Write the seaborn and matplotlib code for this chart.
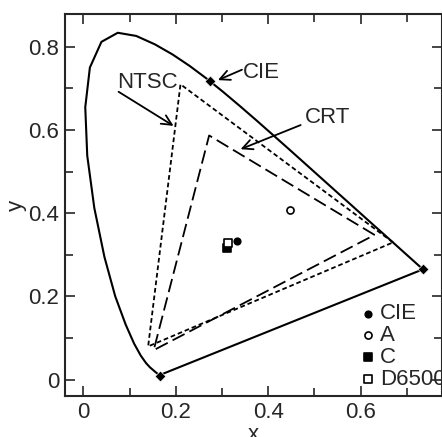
import matplotlib
matplotlib.use("Agg")
import matplotlib.pyplot as plt
import seaborn as sns

# CIE 1931 spectral locus (x, y), closed by the purple line
locus_x = [0.1644, 0.1566, 0.1440, 0.1355, 0.1241, 0.1096, 0.0913, 0.0687, 0.0454, 0.0235,
           0.0082, 0.0039, 0.0139, 0.0389, 0.0743, 0.1142, 0.1547, 0.1929, 0.2296, 0.2658,
           0.3016, 0.3373, 0.3731, 0.4087, 0.4441, 0.4788, 0.5125, 0.5448, 0.5752, 0.6029,
           0.6270, 0.6658, 0.6915, 0.7190, 0.7347, 0.1644]
locus_y = [0.0109, 0.0177, 0.0297, 0.0399, 0.0578, 0.0868, 0.1327, 0.2007, 0.2950, 0.4127,
           0.5384, 0.6548, 0.7502, 0.8120, 0.8338, 0.8262, 0.8059, 0.7816, 0.7543, 0.7243,
           0.6923, 0.6589, 0.6245, 0.5896, 0.5547, 0.5202, 0.4866, 0.4544, 0.4242, 0.3965,
           0.3725, 0.3340, 0.3083, 0.2809, 0.2653, 0.0109]

# CIE RGB primaries on the locus
prim_x = [0.7347, 0.2738, 0.1666]
prim_y = [0.2653, 0.7174, 0.0089]

# NTSC and CRT gamuts (R, G, B, back to R)
ntsc_x = [0.67, 0.21, 0.14, 0.67]
ntsc_y = [0.33, 0.71, 0.08, 0.33]
crt_x = [0.63, 0.272, 0.152, 0.63]
crt_y = [0.348, 0.587, 0.071, 0.348]

# white points
white_names = ["CIE", "A", "C", "D6500"]
white_x = [0.3333, 0.4476, 0.3101, 0.3127]
white_y = [0.3333, 0.4074, 0.3162, 0.3290]

sns.set_style("ticks")
plt.rcParams["font.family"] = ["Liberation Sans", "DejaVu Sans"]
plt.rcParams["font.size"] = 16

fig, ax = plt.subplots(figsize=(4.42, 4.37), dpi=100)
fig.subplots_adjust(left=0.147, right=0.999, bottom=0.093, top=0.969)

sns.lineplot(x=locus_x, y=locus_y, sort=False, estimator=None, color="black", lw=1.5, ax=ax)
sns.lineplot(x=ntsc_x, y=ntsc_y, sort=False, estimator=None, color="black", lw=1.3,
             linestyle=(0, (2.6, 1.6)), ax=ax)
sns.lineplot(x=crt_x, y=crt_y, sort=False, estimator=None, color="black", lw=1.3,
             linestyle=(0, (7.5, 3)), ax=ax)
sns.scatterplot(x=prim_x, y=prim_y, marker="D", s=30, color="black", ax=ax, zorder=5)

# white points with their own markers
styles = [("o", "black", 22), ("o", "white", 26), ("s", "black", 30), ("s", "white", 36)]
for name, wx, wy, (m, fc, s) in zip(white_names, white_x, white_y, styles):
    ax.scatter([wx], [wy], marker=m, s=s, facecolor=fc, edgecolor="black",
               linewidth=1.2, label=name, zorder=6)

arrow = dict(arrowstyle="->,head_length=0.45,head_width=0.22", color="black", lw=1.3,
             shrinkA=0, shrinkB=0, mutation_scale=16)
ax.annotate("", xy=(0.291, 0.720), xytext=(0.343, 0.745), arrowprops=arrow)
ax.text(0.346, 0.738, "CIE", ha="left", va="center")
ax.annotate("", xy=(0.195, 0.610), xytext=(0.076, 0.692), arrowprops=arrow)
ax.text(0.073, 0.714, "NTSC", ha="left", va="center")
ax.annotate("", xy=(0.340, 0.554), xytext=(0.470, 0.612), arrowprops=arrow)
ax.text(0.480, 0.630, "CRT", ha="left", va="center")

ax.set_xlim(-0.04, 0.775)
ax.set_ylim(-0.04, 0.88)
ax.set_xticks([0, 0.2, 0.4, 0.6])
ax.set_xticklabels(["0", "0.2", "0.4", "0.6"])
ax.set_yticks([0, 0.2, 0.4, 0.6, 0.8])
ax.set_yticklabels(["0", "0.2", "0.4", "0.6", "0.8"])
ax.set_xticks([0.1, 0.3, 0.5, 0.7], minor=True)
ax.set_yticks([0.1, 0.3, 0.5, 0.7], minor=True)
ax.tick_params(which="both", direction="in", top=True, right=True, width=1.2)
ax.tick_params(which="major", length=7, pad=4)
ax.tick_params(which="minor", length=5.5)
for sp in ax.spines.values():
    sp.set_linewidth(1.5)
ax.set_xlabel("x", labelpad=1)
ax.set_ylabel("y", labelpad=1)

ax.legend(loc="upper left", bbox_to_anchor=(0.79, 0.243), frameon=False, borderpad=0,
          borderaxespad=0, handlelength=0.5, handletextpad=0.3, labelspacing=0.04,
          scatterpoints=1)

fig.savefig("out.png", dpi=100)
